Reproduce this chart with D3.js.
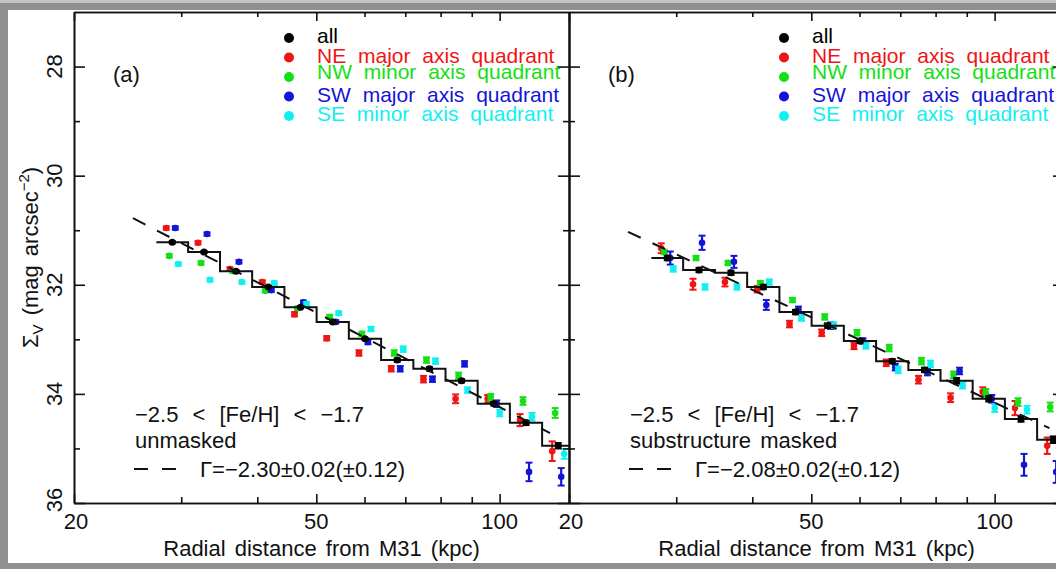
<!DOCTYPE html>
<head>
<meta charset="utf-8">
<script src="https://d3js.org/d3.v7.min.js"></script>
<style>
    body {
        margin: 0;
        background: #8f8f8f;
    }
    svg {
        display: block;
        font-family: "Liberation Sans", Arial, sans-serif;
    }
    .axis path,
    .axis line {
        stroke: #111;
        stroke-width: 1.6px;
        fill: none;
    }
    .axis text {
        display: none;
    }
    text {
        fill: #111;
    }
</style>
</head>
<body>
<script>
    var width = 1056,
        height = 569;

    ////////// data //////////

    // radial bins (kpc), shared by both panels
    var radius = [29.0, 32.7, 36.9, 41.7, 47.1, 53.2, 60.1, 67.9, 76.7, 86.6, 97.8, 110.5, 124.8];

    // panel (a): unmasked, surface brightness (mag arcsec^-2)
    var allA = [31.22, 31.40, 31.75, 32.04, 32.41, 32.68, 32.99, 33.38, 33.54, 33.76, 34.18, 34.53, 34.95];
    var neA  = [30.96, 31.23, 31.71, 31.95, 32.54, 32.98, 33.25, 33.54, 33.73, 34.09, 34.09, 34.48, 35.05];
    var nwA  = [31.47, 31.60, 31.75, 32.11, 32.43, 32.59, 32.90, 33.25, 33.38, 33.67, 34.06, 34.13, 34.35];
    var swA  = [30.96, 31.07, 31.58, 32.10, 32.32, 32.68, 33.05, 33.54, 33.73, 33.45, 34.18, 35.43, 35.52];
    var seA  = [31.62, 31.91, 31.95, 31.97, 32.35, 32.52, 32.81, 33.18, 33.40, 33.93, 34.35, 34.42, 35.10];

    var allErrA = [0.02, 0.02, 0.02, 0.02, 0.02, 0.02, 0.02, 0.03, 0.03, 0.03, 0.03, 0.04, 0.05];
    var neErrA  = [0.03, 0.03, 0.03, 0.03, 0.04, 0.04, 0.05, 0.05, 0.06, 0.08, 0.07, 0.11, 0.18];
    var nwErrA  = [0.03, 0.03, 0.03, 0.03, 0.03, 0.04, 0.04, 0.05, 0.05, 0.06, 0.06, 0.07, 0.09];
    var swErrA  = [0.03, 0.03, 0.03, 0.03, 0.03, 0.03, 0.04, 0.05, 0.05, 0.05, 0.06, 0.17, 0.16];
    var seErrA  = [0.03, 0.03, 0.03, 0.03, 0.03, 0.03, 0.04, 0.05, 0.05, 0.05, 0.06, 0.07, 0.09];

    // panel (b): substructure masked
    var allB = [31.51, 31.73, 31.78, 32.04, 32.50, 32.75, 33.03, 33.40, 33.56, 33.76, 34.09, 34.46, 34.84];
    var neB  = [31.33, 31.99, 31.95, 32.08, 32.72, 32.88, 33.12, 33.43, 33.74, 34.07, 33.96, 34.26, 34.95];
    var nwB  = [31.40, 31.51, 31.60, 31.97, 32.28, 32.59, 32.88, 33.16, 33.40, 33.65, 33.98, 34.15, 34.24];
    var swB  = [31.51, 31.23, 31.58, 32.37, 32.46, 32.75, 33.03, 33.51, 33.60, 33.58, 34.09, 35.30, 35.43];
    var seB  = [31.71, 32.04, 32.04, 31.95, 32.61, 32.74, 33.12, 33.56, 33.45, 33.84, 34.26, 34.29, 34.90];

    var allErrB = [0.04, 0.04, 0.04, 0.04, 0.04, 0.04, 0.04, 0.04, 0.04, 0.05, 0.05, 0.05, 0.06];
    var neErrB  = [0.09, 0.10, 0.08, 0.06, 0.06, 0.06, 0.06, 0.06, 0.07, 0.08, 0.08, 0.13, 0.15];
    var nwErrB  = [0.04, 0.04, 0.04, 0.04, 0.04, 0.05, 0.05, 0.06, 0.06, 0.06, 0.07, 0.07, 0.08];
    var swErrB  = [0.12, 0.13, 0.11, 0.09, 0.06, 0.06, 0.05, 0.06, 0.06, 0.06, 0.07, 0.20, 0.20];
    var seErrB  = [0.05, 0.05, 0.05, 0.05, 0.05, 0.05, 0.05, 0.06, 0.06, 0.06, 0.07, 0.07, 0.09];

    // power-law fits: slope Gamma, value at 25 kpc, radial range
    var fitGamma = [-2.30, -2.08];
    var fitMu25  = [30.78, 31.03];
    var fitRange = [[25, 121], [25, 123]];

    var legendLabels = ["all", "NE major axis quadrant", "NW minor axis quadrant",
                        "SW major axis quadrant", "SE minor axis quadrant"];
    var legendColors = ["#000000", "#f01414", "#14e014", "#1414d8", "#10f0f0"];

    var xMajor = [20, 50, 100],
        xMinor = [30, 40, 60, 70, 80, 90],
        yMajor = [28, 30, 32, 34, 36],
        yMinor = [29, 31, 33, 35];

    var panels = [
        {id: "a", tag: "(a)", mask: "unmasked", gammaText: "\u0393=\u22122.30\u00b10.02(\u00b10.12)",
         all: allA, allErr: allErrA, quads: [neA, nwA, swA, seA], errs: [neErrA, nwErrA, swErrA, seErrA]},
        {id: "b", tag: "(b)", mask: "substructure masked", gammaText: "\u0393=\u22122.08\u00b10.02(\u00b10.12)",
         all: allB, allErr: allErrB, quads: [neB, nwB, swB, seB], errs: [neErrB, nwErrB, swErrB, seErrB]}
    ];

    ////////// layout //////////

    var panelW = 495,
        plotTop = 12,
        plotBottom = 503,
        lefts = [74, 569];

    // small horizontal dodge (px) of the quadrant points around each bin
    var dodge = [-6, -3, 3, 6];

    var svg = d3.select("body")
        .append("svg")
        .attr("width", width)
        .attr("height", height);

    // window frame
    svg.append("rect").attr("width", width).attr("height", height).attr("fill", "#8f8f8f");
    svg.append("rect").attr("width", width).attr("height", 3).attr("fill", "#c4c4c4");
    svg.append("rect")
        .attr("x", 8).attr("y", 10)
        .attr("width", width - 8).attr("height", 553)
        .attr("fill", "#ffffff");

    var y = d3.scaleLinear()
        .domain([27, 36])
        .range([plotTop, plotBottom]);

    panels.forEach(function(p, pi) {
        var left = lefts[pi];

        var x = d3.scaleLog()
            .domain([20, 130])
            .range([left, left + panelW]);

        var g = svg.append("g").attr("class", "panel-" + p.id);

        svg.append("clipPath")
            .attr("id", "clip-" + p.id)
            .append("rect")
            .attr("x", left).attr("y", plotTop)
            .attr("width", panelW).attr("height", plotBottom - plotTop);

        var plot = g.append("g").attr("clip-path", "url(#clip-" + p.id + ")");

        ////////// axes (ticks inward on all four sides) //////////

        function addAxis(axis, tx, ty) {
            g.append("g")
                .attr("class", "axis")
                .attr("transform", "translate(" + tx + "," + ty + ")")
                .call(axis);
        }

        addAxis(d3.axisBottom(x).tickValues(xMajor).tickSize(-9).tickSizeOuter(0), 0, plotBottom);
        addAxis(d3.axisBottom(x).tickValues(xMinor).tickSize(-6).tickSizeOuter(0), 0, plotBottom);
        addAxis(d3.axisTop(x).tickValues(xMajor).tickSize(-9).tickSizeOuter(0), 0, plotTop);
        addAxis(d3.axisTop(x).tickValues(xMinor).tickSize(-5).tickSizeOuter(0), 0, plotTop);
        addAxis(d3.axisLeft(y).tickValues(yMajor).tickSize(-11).tickSizeOuter(0), left, 0);
        addAxis(d3.axisLeft(y).tickValues(yMinor).tickSize(-6).tickSizeOuter(0), left, 0);
        addAxis(d3.axisRight(y).tickValues(yMajor).tickSize(-11).tickSizeOuter(0), left + panelW, 0);
        addAxis(d3.axisRight(y).tickValues(yMinor).tickSize(-6).tickSizeOuter(0), left + panelW, 0);

        // tick labels
        g.selectAll(".xlab")
            .data(xMajor)
            .enter()
            .append("text")
            .attr("class", "xlab")
            .attr("x", function(d) { return x(d) + (d === 20 ? 2 : 0); })
            .attr("y", plotBottom + 26)
            .attr("text-anchor", "middle")
            .style("font-size", "22px")
            .text(function(d) { return d; });

        if (pi === 0) {
            g.selectAll(".ylab")
                .data(yMajor)
                .enter()
                .append("text")
                .attr("class", "ylab")
                .attr("transform", function(d) {
                    return "translate(" + (left - 12) + "," + (d === 36 ? y(d) - 3 : y(d)) + ") rotate(-90)";
                })
                .attr("text-anchor", "middle")
                .style("font-size", "22px")
                .text(function(d) { return d; });

            var yt = g.append("text")
                .attr("transform", "translate(38," + ((plotTop + plotBottom) / 2) + ") rotate(-90)")
                .attr("text-anchor", "middle")
                .style("font-size", "22px")
                .style("word-spacing", "3px");
            yt.append("tspan").text("\u03a3");
            yt.append("tspan").attr("dy", 5).style("font-size", "15px").text("V");
            yt.append("tspan").attr("dy", -5).text(" (mag arcsec");
            yt.append("tspan").attr("dy", -9).style("font-size", "15px").text("\u22122");
            yt.append("tspan").attr("dy", 9).text(")");
        }

        g.append("text")
            .attr("x", left + panelW / 2)
            .attr("y", 556)
            .attr("text-anchor", "middle")
            .style("font-size", "22px")
            .style("word-spacing", "3px")
            .text("Radial distance from M31 (kpc)");

        ////////// quadrant points with error bars //////////

        function errorPoints(values, errs, color, dx, r) {
            var pts = plot.append("g");
            values.forEach(function(v, i) {
                var cx = x(radius[i]) + dx,
                    y0 = y(v - errs[i]),
                    y1 = y(v + errs[i]);
                pts.append("line")
                    .attr("x1", cx).attr("x2", cx)
                    .attr("y1", y0).attr("y2", y1)
                    .attr("stroke", color).attr("stroke-width", 2.2);
                [y0, y1].forEach(function(yy) {
                    pts.append("line")
                        .attr("x1", cx - 3.5).attr("x2", cx + 3.5)
                        .attr("y1", yy).attr("y2", yy)
                        .attr("stroke", color).attr("stroke-width", 2);
                });
                pts.append("circle")
                    .attr("cx", cx).attr("cy", y(v))
                    .attr("r", r)
                    .attr("fill", color);
            });
        }

        p.quads.forEach(function(q, qi) {
            errorPoints(q, p.errs[qi], legendColors[qi + 1], dodge[qi], 3.3);
        });

        ////////// all-quadrant step profile //////////

        var cx = radius.map(function(r) { return x(r); });
        var half0 = (cx[1] - cx[0]) / 2,
            halfN = (cx[cx.length - 1] - cx[cx.length - 2]) / 2;
        var stepPts = [[cx[0] - half0, y(p.all[0])]]
            .concat(cx.map(function(c, i) { return [c, y(p.all[i])]; }))
            .concat([[cx[cx.length - 1] + halfN, y(p.all[p.all.length - 1])]]);

        plot.append("path")
            .attr("d", d3.line().curve(d3.curveStep)(stepPts))
            .attr("fill", "none")
            .attr("stroke", "#111")
            .attr("stroke-width", 2);

        errorPoints(p.all, p.allErr, "#000", 0, 3.5);

        ////////// power-law fit //////////

        var slope = -2.5 * fitGamma[pi];
        var fitLine = d3.line()
            .x(function(r) { return x(r); })
            .y(function(r) { return y(fitMu25[pi] + slope * Math.log10(r / 25)); });

        plot.append("path")
            .attr("d", fitLine(fitRange[pi]))
            .attr("fill", "none")
            .attr("stroke", "#111")
            .attr("stroke-width", 2)
            .attr("stroke-dasharray", "14,13");

        ////////// labels and legend //////////

        g.append("text")
            .attr("x", left + 39)
            .attr("y", 82)
            .style("font-size", "22px")
            .text(p.tag);

        var legend = g.append("g")
            .attr("transform", "translate(" + left + ",0)");

        legendLabels.forEach(function(lab, i) {
            var ly = 38 + 19.5 * i;
            legend.append("circle")
                .attr("cx", 215).attr("cy", ly)
                .attr("r", 5)
                .attr("fill", legendColors[i]);
            legend.append("text")
                .attr("x", 243)
                .attr("y", ly + (i === 2 ? 2 : 5))
                .style("font-size", "21px")
                .style("word-spacing", "6px")
                .style("fill", legendColors[i])
                .text(lab);
        });

        g.append("text")
            .attr("x", left + 61)
            .attr("y", 422)
            .style("font-size", "22px")
            .style("word-spacing", "8px")
            .text("\u22122.5 < [Fe/H] < \u22121.7");

        g.append("text")
            .attr("x", left + 61)
            .attr("y", 448)
            .style("font-size", "22px")
            .style("word-spacing", "3px")
            .text(p.mask);

        g.append("line")
            .attr("x1", left + 60).attr("x2", left + 102)
            .attr("y1", 469).attr("y2", 469)
            .attr("stroke", "#111")
            .attr("stroke-width", 2)
            .attr("stroke-dasharray", "14,14");

        g.append("text")
            .attr("x", left + 126)
            .attr("y", 477)
            .style("font-size", "22px")
            .text(p.gammaText);
    });
</script>
</body>
